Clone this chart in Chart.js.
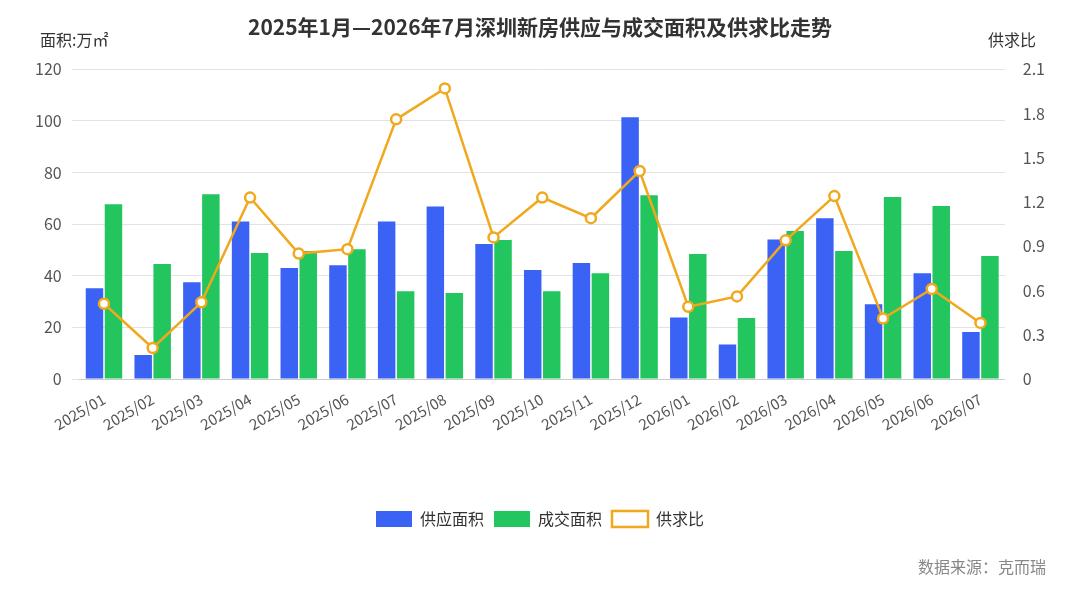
<!DOCTYPE html>
<html>
<head>
<meta charset="utf-8">
<script src="https://cdn.jsdelivr.net/npm/chart.js"></script>
<style>
  body { margin: 0; background: #fff; }
  #wrap { width: 1080px; height: 589px; }
</style>
</head>
<body>
<div id="wrap"><canvas id="myChart"></canvas></div>
<script>
var months = ['2025/01','2025/02','2025/03','2025/04','2025/05','2025/06','2025/07','2025/08','2025/09','2025/10','2025/11','2025/12','2026/01','2026/02','2026/03','2026/04','2026/05','2026/06','2026/07'];
var supply = [35.2, 9.3, 37.5, 61.0, 43.0, 44.1, 61.0, 66.8, 52.3, 42.2, 44.9, 101.4, 23.8, 13.4, 54.0, 62.3, 29.0, 41.0, 18.2];
var deals = [67.7, 44.5, 71.6, 48.8, 49.6, 50.3, 34.0, 33.3, 53.8, 34.0, 41.0, 71.2, 48.4, 23.6, 57.3, 49.6, 70.5, 67.0, 47.6];
var ratio = [0.51, 0.21, 0.52, 1.23, 0.85, 0.88, 1.76, 1.97, 0.96, 1.23, 1.09, 1.41, 0.49, 0.56, 0.94, 1.24, 0.41, 0.61, 0.38];
var leftTicks = [0, 20, 40, 60, 80, 100, 120];
var rightTicks = [0, 0.3, 0.6, 0.9, 1.2, 1.5, 1.8, 2.1];

var font = "'Noto Sans CJK SC', 'Noto Sans', sans-serif";
Chart.defaults.font.family = font;
Chart.defaults.color = '#555';

// axis titles and source note
var extras = {
    id: 'extras',
    afterDraw: function (chart) {
        var ctx = chart.ctx;
        ctx.save();
        ctx.fillStyle = '#333';
        ctx.font = '16px ' + font;
        ctx.textBaseline = 'middle';
        ctx.textAlign = 'left';
        ctx.fillText('面积:万㎡', 40, 40);
        ctx.textAlign = 'right';
        ctx.fillText('供求比', 1036, 40);
        ctx.fillStyle = '#888';
        ctx.fillText('数据来源：克而瑞', 1046, 567);
        ctx.restore();
    }
};

new Chart(document.getElementById('myChart'), {
    data: {
        labels: months,
        datasets: [
            { type: 'line', label: '供求比', data: ratio, yAxisID: 'y1', borderColor: '#F0A81C', backgroundColor: '#fff',
              borderWidth: 2.5, pointRadius: 5, pointBorderWidth: 2.5, pointBackgroundColor: '#fff', pointBorderColor: '#F0A81C', order: 0 },
            { type: 'bar', label: '供应面积', data: supply, yAxisID: 'y', backgroundColor: '#3A62F5', order: 1,
              categoryPercentage: 0.78, barPercentage: 0.92 },
            { type: 'bar', label: '成交面积', data: deals, yAxisID: 'y', backgroundColor: '#22C55E', order: 1,
              categoryPercentage: 0.78, barPercentage: 0.92 }
        ]
    },
    options: {
        responsive: true,
        maintainAspectRatio: false,
        animation: false,
        layout: { padding: { top: 10, left: 25, right: 25, bottom: 52 } },
        plugins: {
            title: { display: true, text: '2025年1月—2026年7月深圳新房供应与成交面积及供求比走势', color: '#333',
                     font: { size: 21, weight: 'bold' }, padding: { top: 4, bottom: 30 } },
            legend: {
                position: 'bottom',
                labels: {
                    font: { size: 16 }, color: '#333', boxWidth: 36, boxHeight: 16,
                    generateLabels: function (chart) {
                        var items = Chart.defaults.plugins.legend.labels.generateLabels(chart);
                        items.sort(function (a, b) { return (a.datasetIndex === 0) - (b.datasetIndex === 0); });
                        return items;
                    }
                }
            },
            tooltip: { enabled: false }
        },
        scales: {
            x: {
                grid: { display: false },
                ticks: { maxRotation: 30, minRotation: 30, font: { size: 15 }, color: '#555' },
                afterFit: function (s) { s.height = 122; }
            },
            y: {
                position: 'left', min: 0, max: 120,
                border: { display: false },
                grid: { color: '#e3e3e3' },
                afterBuildTicks: function (s) { s.ticks = leftTicks.map(function (v) { return { value: v }; }); },
                ticks: { font: { size: 16 }, color: '#555', padding: 10 }
            },
            y1: {
                position: 'right', min: 0, max: 2.1,
                border: { display: false },
                grid: { display: false },
                afterBuildTicks: function (s) { s.ticks = rightTicks.map(function (v) { return { value: v }; }); },
                ticks: { font: { size: 16 }, color: '#555', padding: 10,
                         callback: function (v) { return v === 0 ? '0' : v.toFixed(1); } }
            }
        }
    },
    plugins: [extras]
});
</script>
</body>
</html>
